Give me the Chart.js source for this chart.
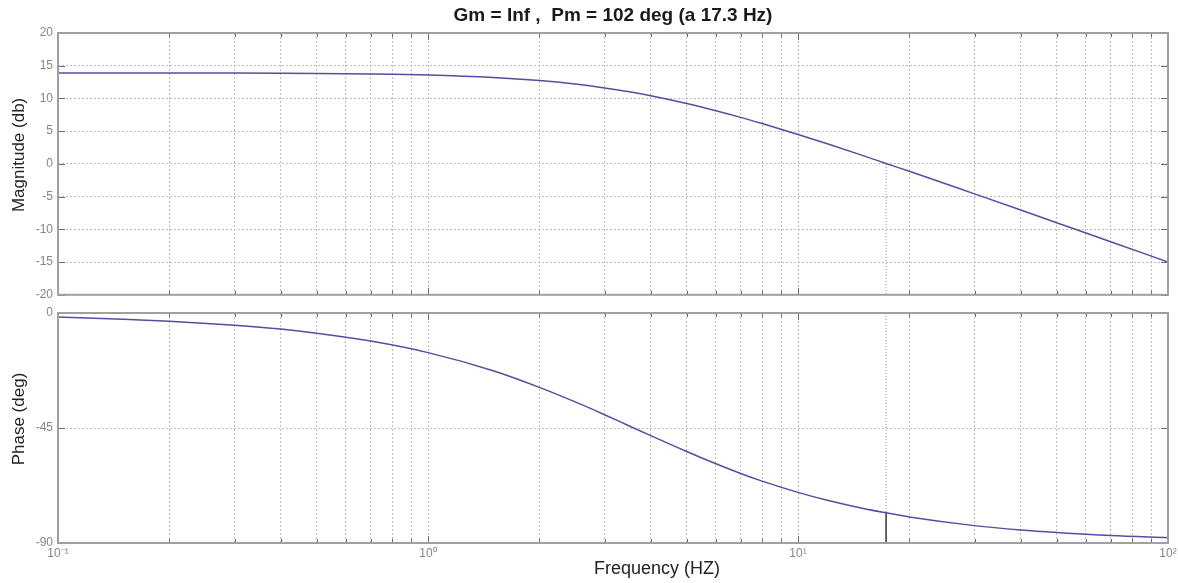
<!DOCTYPE html>
<html>
<head>
<meta charset="utf-8">
<script src="https://cdn.jsdelivr.net/npm/chart.js@4.4.1/dist/chart.umd.min.js"></script>
<style>
  html, body { margin: 0; padding: 0; background: #fff; }
  #wrap { position: relative; width: 1178px; height: 583px; overflow: hidden; }
  #magChart { position: absolute; left: 0; top: 0; }
  #phaseChart { position: absolute; left: 0; top: 297px; }
</style>
</head>
<body>
<div id="wrap">
  <canvas id="magChart" width="1178" height="307"></canvas>
  <canvas id="phaseChart" width="1178" height="286"></canvas>
</div>
<script>
// values
const freqHz      = [0.1, 0.15, 0.2, 0.3, 0.4, 0.5, 0.7, 1, 1.5, 2, 2.5, 3, 3.5, 4, 5, 6, 7, 8, 10, 12, 15, 17.3, 20, 30, 40, 50, 70, 100];
const magnitudeDb = [13.9, 13.89, 13.89, 13.87, 13.85, 13.82, 13.74, 13.58, 13.2, 12.73, 12.19, 11.61, 11.01, 10.41, 9.23, 8.13, 7.11, 6.16, 4.5, 3.07, 1.26, 0.05, -1.13, -4.58, -7.05, -8.98, -11.89, -14.98];
const phaseDeg    = [-1.6, -2.4, -3.2, -4.8, -6.3, -7.9, -11.0, -15.5, -22.6, -29.1, -34.8, -39.8, -44.2, -48.0, -54.2, -59.0, -62.8, -65.8, -70.2, -73.3, -76.5, -78.2, -79.8, -83.2, -84.9, -85.9, -87.1, -87.9];

const freqTicks   = [0.1, 0.2, 0.3, 0.4, 0.5, 0.6, 0.7, 0.8, 0.9, 1, 2, 3, 4, 5, 6, 7, 8, 9, 10, 20, 30, 40, 50, 60, 70, 80, 90, 100];
const decadeLabels = { 0.1: '10\u207B\u00B9', 1: '10\u2070', 10: '10\u00B9', 100: '10\u00B2' };
const magTicks    = [20, 15, 10, 5, 0, -5, -10, -15, -20];
const phaseTicks  = [0, -45, -90];

const crossoverHz = 17.3;
const crossoverPhase = -78.2;
const titleText = 'Gm = Inf ,  Pm = 102 deg (a 17.3 Hz)';

const lineColor = 'rgb(80, 80, 160)';
const gridColor = '#bdbdbd';
const fontFamily = "'Liberation Sans', Arial, sans-serif";

Chart.defaults.font.family = fontFamily;

const frameAndTicks = {
  id: 'frameAndTicks',
  afterDraw(chart) {
    const { ctx, chartArea: a, scales } = chart;
    ctx.save();
    ctx.strokeStyle = '#6a6a6a';
    ctx.lineWidth = 1;
    ctx.beginPath();
    scales.x.ticks.forEach(t => {
      const px = Math.round(scales.x.getPixelForValue(t.value)) + 0.5;
      const lg = Math.log10(t.value);
      const len = Math.abs(lg - Math.round(lg)) < 1e-6 ? 7 : 4;
      ctx.moveTo(px, a.top); ctx.lineTo(px, a.top + len);
      ctx.moveTo(px, a.bottom); ctx.lineTo(px, a.bottom - len);
    });
    scales.y.ticks.forEach(t => {
      const py = Math.round(scales.y.getPixelForValue(t.value)) + 0.5;
      ctx.moveTo(a.left, py); ctx.lineTo(a.left + 7, py);
      ctx.moveTo(a.right, py); ctx.lineTo(a.right - 7, py);
    });
    ctx.stroke();
    ctx.strokeStyle = '#a0a0a0';
    ctx.lineWidth = 2;
    ctx.strokeRect(a.left, a.top, a.right - a.left, a.bottom - a.top);
    ctx.restore();
  }
};

// axis titles sit a little off-centre in the original, so place them by hand
const axisTitles = (yText, xText) => ({
  id: 'axisTitles',
  afterDraw(chart) {
    const { ctx, chartArea: a } = chart;
    ctx.save();
    ctx.fillStyle = '#222';
    ctx.textAlign = 'center';
    ctx.textBaseline = 'middle';
    ctx.font = `17px ${fontFamily}`;
    ctx.translate(19, (a.top + a.bottom) / 2 - 9);
    ctx.rotate(-Math.PI / 2);
    ctx.fillText(yText, 0, 0);
    ctx.restore();
    if (xText) {
      ctx.save();
      ctx.fillStyle = '#222';
      ctx.textAlign = 'center';
      ctx.textBaseline = 'middle';
      ctx.font = `18px ${fontFamily}`;
      ctx.fillText(xText, (a.left + a.right) / 2 + 44, a.bottom + 26);
      ctx.restore();
    }
  }
});

const xScale = (showLabels) => ({
  type: 'logarithmic',
  min: 0.1,
  max: 100,
  afterBuildTicks: (scale) => { scale.ticks = freqTicks.map(v => ({ value: v })); },
  afterFit: (scale) => {
    scale.height = showLabels ? 40 : 0;
    scale.paddingLeft = 0;
    scale.paddingRight = 0;
  },
  border: { display: false, dash: [2, 2] },
  grid: { color: gridColor, drawTicks: false },
  ticks: {
    display: showLabels,
    autoSkip: false,
    maxRotation: 0,
    padding: 3,
    color: '#858585',
    font: { size: 12 },
    callback: (v) => decadeLabels[v] || ''
  }
});

const yScale = (ticks) => ({
  min: ticks[ticks.length - 1],
  max: ticks[0],
  afterBuildTicks: (scale) => { scale.ticks = ticks.map(v => ({ value: v })); },
  afterFit: (scale) => { scale.width = 58; },
  border: { display: false, dash: [2, 2] },
  grid: { color: gridColor, drawTicks: false },
  ticks: { padding: 5, color: '#858585', font: { size: 12 } }
});

const curve = (values) => ({
  data: freqHz.map((f, i) => ({ x: f, y: values[i] })),
  borderColor: lineColor,
  borderWidth: 1.5,
  pointRadius: 0,
  cubicInterpolationMode: 'monotone',
  order: 0
});

new Chart(document.getElementById('magChart'), {
  type: 'line',
  data: {
    datasets: [
      curve(magnitudeDb),
      {
        data: [{ x: crossoverHz, y: 0 }, { x: crossoverHz, y: magTicks[magTicks.length - 1] }],
        borderColor: '#8a8a8a', borderWidth: 1, borderDash: [1, 2], pointRadius: 0, order: 1
      }
    ]
  },
  options: {
    responsive: false,
    animation: false,
    layout: { padding: { left: 0, right: 10, top: 0, bottom: 10 } },
    plugins: {
      legend: { display: false },
      tooltip: { enabled: false },
      title: {
        display: true,
        fullSize: false,
        text: titleText,
        color: '#1a1a1a',
        font: { size: 19, weight: 'bold' },
        padding: { top: 4, bottom: 6.2 }
      }
    },
    scales: { x: xScale(false), y: yScale(magTicks) }
  },
  plugins: [frameAndTicks, axisTitles('Magnitude (db)')]
});

new Chart(document.getElementById('phaseChart'), {
  type: 'line',
  data: {
    datasets: [
      curve(phaseDeg),
      {
        data: [{ x: crossoverHz, y: phaseTicks[0] }, { x: crossoverHz, y: crossoverPhase }],
        borderColor: '#8a8a8a', borderWidth: 1, borderDash: [1, 2], pointRadius: 0, order: 1
      },
      {
        data: [{ x: crossoverHz, y: crossoverPhase }, { x: crossoverHz, y: phaseTicks[phaseTicks.length - 1] }],
        borderColor: '#333', borderWidth: 1.5, pointRadius: 0, order: 1
      }
    ]
  },
  options: {
    responsive: false,
    animation: false,
    layout: { padding: { left: 0, right: 10, top: 16, bottom: 0 } },
    plugins: { legend: { display: false }, tooltip: { enabled: false } },
    scales: { x: xScale(true), y: yScale(phaseTicks) }
  },
  plugins: [frameAndTicks, axisTitles('Phase (deg)', 'Frequency (HZ)')]
});
</script>
</body>
</html>
